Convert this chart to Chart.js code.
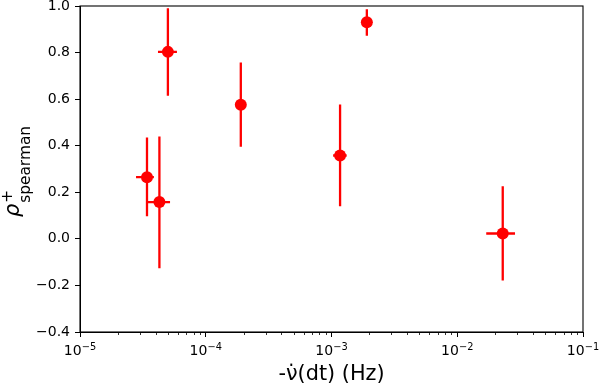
<!DOCTYPE html>
<html>
<head>
<meta charset="UTF-8">
<script src="https://cdn.jsdelivr.net/npm/chart.js"></script>
<style>
  html, body { margin: 0; padding: 0; background: #fff; }
  #wrap { width: 599px; height: 385px; }
</style>
</head>
<body>
<div id="wrap"><canvas id="c"></canvas></div>
<script>
// values
const freqDot = [3.41e-5, 4.28e-5, 5.0e-5, 1.9e-4, 1.17e-3, 1.91e-3, 2.30e-2];
const freqLo  = [2.79e-5, 3.47e-5, 4.17e-5, 1.86e-4, 1.03e-3, 1.87e-3, 1.70e-2];
const freqHi  = [3.87e-5, 5.20e-5, 5.90e-5, 1.94e-4, 1.32e-3, 1.95e-3, 2.88e-2];
const rho     = [0.265, 0.158, 0.803, 0.576, 0.358, 0.930, 0.023];
const rhoLo   = [0.097, -0.126, 0.615, 0.396, 0.140, 0.872, -0.179];
const rhoHi   = [0.435, 0.440, 0.990, 0.757, 0.577, 0.986, 0.226];

const xMajor = [1e-5, 1e-4, 1e-3, 1e-2, 1e-1];
const xMajorExp = ['\u22125', '\u22124', '\u22123', '\u22122', '\u22121'];

const FONT = 'DejaVu Sans';
const RED = '#ff0000';

const points = freqDot.map((x, i) => ({ x: x, y: rho[i] }));

// error bars, drawn via the chart's own scales
const errorBars = {
  id: 'errorBars',
  beforeDatasetsDraw(chart) {
    const ctx = chart.ctx, xs = chart.scales.x, ys = chart.scales.y;
    ctx.save();
    ctx.strokeStyle = RED;
    ctx.lineWidth = 2.3;
    for (let i = 0; i < freqDot.length; i++) {
      const px = xs.getPixelForValue(freqDot[i]);
      const py = ys.getPixelForValue(rho[i]);
      ctx.beginPath();
      ctx.moveTo(px, ys.getPixelForValue(rhoLo[i]));
      ctx.lineTo(px, ys.getPixelForValue(rhoHi[i]));
      ctx.moveTo(xs.getPixelForValue(freqLo[i]), py);
      ctx.lineTo(xs.getPixelForValue(freqHi[i]), py);
      ctx.stroke();
    }
    ctx.restore();
  }
};

// box, minor log ticks, 10^n labels and the y label with sub/superscript
const frame = {
  id: 'frame',
  afterDraw(chart) {
    const ctx = chart.ctx, a = chart.chartArea, xs = chart.scales.x;
    ctx.save();
    ctx.strokeStyle = '#000';
    ctx.lineWidth = 1.1;
    ctx.strokeRect(a.left, a.top, a.right - a.left, a.bottom - a.top);

    ctx.beginPath();
    for (let d = -5; d < -1; d++) {
      for (let m = 2; m <= 9; m++) {
        const px = Math.round(xs.getPixelForValue(m * Math.pow(10, d))) + 0.5;
        ctx.moveTo(px, a.bottom);
        ctx.lineTo(px, a.bottom + 3);
      }
    }
    ctx.lineWidth = 0.8;
    ctx.stroke();

    // x tick labels as 10 with raised exponent
    ctx.fillStyle = '#000';
    ctx.textBaseline = 'alphabetic';
    ctx.textAlign = 'left';
    xMajor.forEach((v, i) => {
      const px = xs.getPixelForValue(v);
      ctx.font = '14px "' + FONT + '"';
      const wb = ctx.measureText('10').width;
      ctx.font = '9.8px "' + FONT + '"';
      const we = ctx.measureText(xMajorExp[i]).width;
      const x0 = px - (wb + we) / 2;
      ctx.font = '14px "' + FONT + '"';
      ctx.fillText('10', x0, a.bottom + 23);
      ctx.font = '9.8px "' + FONT + '"';
      ctx.fillText(xMajorExp[i], x0 + wb, a.bottom + 17.5);
    });

    // y title: rho^+_spearman
    const bigIt = 'oblique 20.8px "' + FONT + '"';
    const small = '15.4px "' + FONT + '"';
    ctx.font = bigIt;
    const wRho = ctx.measureText('\u03C1').width;
    ctx.font = small;
    const wSub = ctx.measureText('spearman').width;
    const total = wRho + 1 + wSub;
    const cy = (a.top + a.bottom) / 2 + 2.5;
    ctx.translate(19, cy);
    ctx.rotate(-Math.PI / 2);
    const x0 = -total / 2;
    ctx.font = bigIt;
    ctx.fillText('\u03C1', x0, 0);
    ctx.font = small;
    ctx.fillText('+', x0 + wRho + 1, -7);
    ctx.fillText('spearman', x0 + wRho + 1, 11);
    ctx.restore();
  }
};

new Chart(document.getElementById('c'), {
  type: 'scatter',
  data: {
    datasets: [{
      data: points,
      backgroundColor: RED,
      borderColor: RED,
      pointRadius: 6,
      pointHoverRadius: 6,
      borderWidth: 0
    }]
  },
  options: {
    responsive: true,
    maintainAspectRatio: false,
    animation: false,
    events: [],
    layout: { padding: { top: 5, right: 16, left: 0, bottom: 0 } },
    plugins: { legend: { display: false }, tooltip: { enabled: false } },
    scales: {
      x: {
        type: 'logarithmic',
        min: 1e-5,
        max: 1e-1,
        afterBuildTicks: s => { s.ticks = xMajor.map(v => ({ value: v })); },
        afterFit: s => { s.height = 53; s.paddingLeft = 0; s.paddingRight = 0; },
        grid: { drawOnChartArea: false, tickLength: 5, color: '#000', lineWidth: 1 },
        border: { display: true, color: '#000', width: 1 },
        ticks: { display: false, autoSkip: false },
        title: {
          display: true,
          text: '-\u03BD\u0307(dt) (Hz)',
          color: '#000',
          font: { family: FONT, size: 20.8 },
          padding: { top: 0, bottom: -2 }
        }
      },
      y: {
        min: -0.4,
        max: 1.0,
        afterFit: s => { s.width = 80; s.paddingTop = 0; s.paddingBottom = 0; },
        grid: { drawOnChartArea: false, tickLength: 5, color: '#000', lineWidth: 1 },
        border: { display: true, color: '#000', width: 1 },
        ticks: {
          stepSize: 0.2,
          padding: 5,
          color: '#000',
          font: { family: FONT, size: 14 },
          callback: v => (Math.abs(v) < 1e-9 ? '0.0' : v.toFixed(1).replace('-', '\u2212'))
        }
      }
    }
  },
  plugins: [errorBars, frame]
});
</script>
</body>
</html>
